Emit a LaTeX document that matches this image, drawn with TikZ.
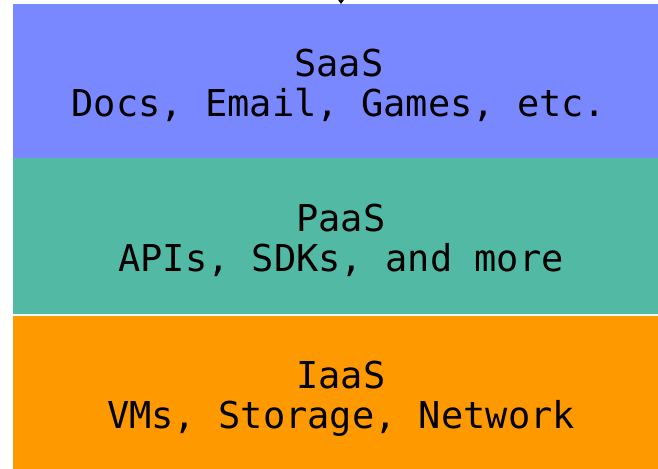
\documentclass[tikz,border=0pt]{standalone}
\usepackage{fontspec}
\setmonofont{DejaVu Sans Mono}
\usetikzlibrary{arrows.meta}
\definecolor{saasblue}{RGB}{121,136,255}
\definecolor{paasgreen}{RGB}{82,185,164}
\definecolor{iaasorange}{RGB}{255,153,0}
\tikzset{
  layer/.style={rectangle, draw=none, inner sep=0pt, minimum width=645bp, minimum height=#1, anchor=north west},
  layertext/.style={font=\ttfamily\fontsize{37bp}{40bp}\selectfont, align=center, inner sep=0pt, anchor=base},
}
\begin{document}
\begin{tikzpicture}[x=1bp, y=-1bp]
\useasboundingbox (0,0) rectangle (658,469);
\node[layer=154bp, fill=saasblue] (saas) at (13,4) {};
\node[layer=156bp, fill=paasgreen] (paas) at (13,158) {};
\node[layer=153bp, fill=iaasorange] (iaas) at (13,316) {};
\node[layertext] (saast) at (339,117) {SaaS\\Docs, Email, Games, etc.};
\node[layertext] (paast) at (341,272) {PaaS\\APIs, SDKs, and more};
\node[layertext] (iaast) at (341,428) {IaaS\\VMs, Storage, Network};
\coordinate (feed) at (341,-20);
\draw[line width=1bp, -{Stealth[length=5bp,width=7bp]}] (feed) -- (saas.north -| feed);
\end{tikzpicture}
\end{document}
